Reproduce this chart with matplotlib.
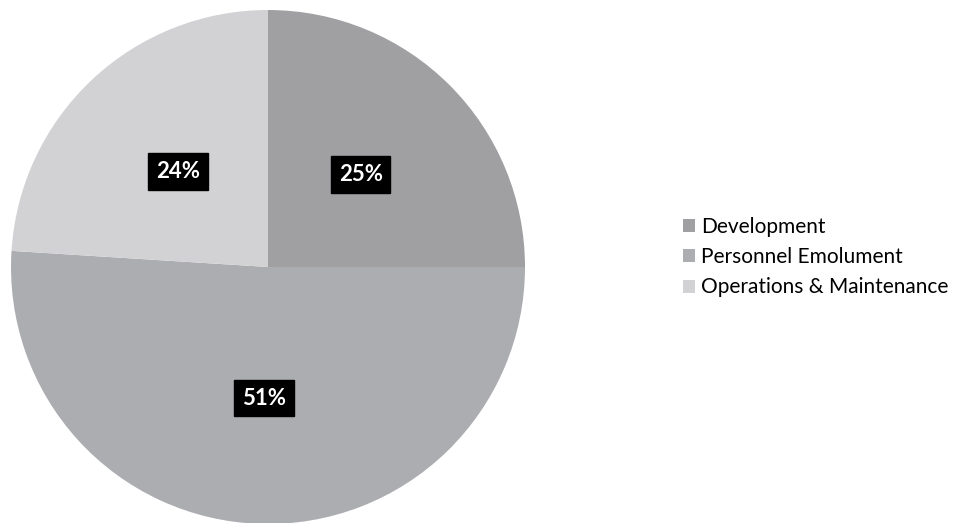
import matplotlib
matplotlib.use("Agg")
import matplotlib.pyplot as plt
from matplotlib.patches import Patch

categories = ["Development", "Personnel Emolument", "Operations & Maintenance"]
values = [25, 51, 24]
colors = ["#a0a0a3", "#acadb0", "#d2d2d4"]

W, H = 958, 523
fig = plt.figure(figsize=(W / 100, H / 100), dpi=100)
fig.patch.set_facecolor("white")

cx, cy, r = 268, 267, 257
ax = fig.add_axes([(cx - r) / W, (H - cy - r) / H, 2 * r / W, 2 * r / H])

wedges, texts, autotexts = ax.pie(
    values, colors=colors, startangle=90, counterclock=False, radius=1,
    autopct=lambda p: f"{p:.0f}%", pctdistance=0.51,
    wedgeprops=dict(linewidth=0),
    textprops=dict(color="white", fontweight="bold", fontsize=16, family="Lato"),
)
for t in autotexts:
    t.set_bbox(dict(facecolor="black", edgecolor="black", boxstyle="square,pad=0.35"))
ax.set_xlim(-1, 1)
ax.set_ylim(-1, 1)
ax.set_aspect("equal")

handles = [Patch(facecolor=c, edgecolor="none") for c in colors]
fig.legend(handles, categories, loc="center left",
           bbox_to_anchor=(668 / W, 1 - 257 / H), frameon=False,
           prop=dict(family="Lato", size=15), handlelength=0.58, handleheight=0.58,
           handletextpad=0.3, labelspacing=0.5, borderpad=0.2)

fig.savefig("out.png", dpi=100)
